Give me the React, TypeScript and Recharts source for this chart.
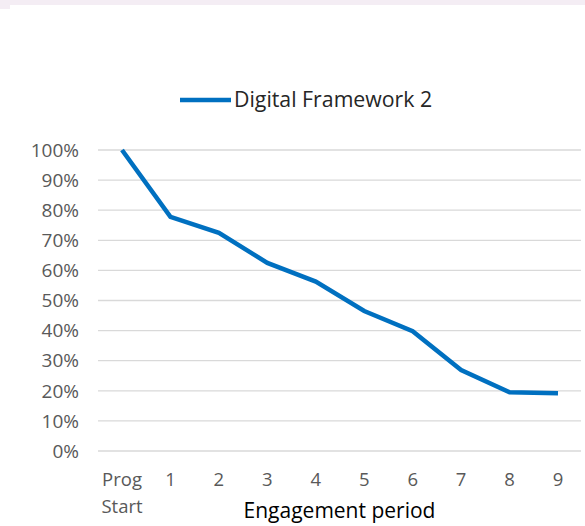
import { LineChart, Line, XAxis, YAxis, CartesianGrid, Legend } from "recharts";

const periods = ["Prog Start", "1", "2", "3", "4", "5", "6", "7", "8", "9"];
const framework2 = [1.0, 0.778, 0.725, 0.625, 0.563, 0.465, 0.398, 0.269, 0.195, 0.192];
const yTicks = [0, 0.1, 0.2, 0.3, 0.4, 0.5, 0.6, 0.7, 0.8, 0.9, 1.0];

const data = periods.map((p, i) => ({ period: p, value: framework2[i] }));

const FONT = "'Open Sans', sans-serif";
const BLUE = "#0070C0";

function PeriodTick({ x, y, payload }: any) {
  const lines = String(payload.value).split(" ");
  return (
    <text x={x} y={y} textAnchor="middle" fill="#595959" fontSize={18.5} fontFamily={FONT}>
      {lines.map((l, i) => (
        <tspan key={i} x={x} dy={i === 0 ? 35 : 27}>
          {l}
        </tspan>
      ))}
    </text>
  );
}

function LegendContent() {
  return (
    <svg width={300} height={30}>
      <line x1={2} y1={15} x2={53} y2={15} stroke={BLUE} strokeWidth={4.5} />
      <text x={56} y={22} fill="#262626" fontSize={21.3} fontFamily={FONT}>
        Digital Framework 2
      </text>
    </svg>
  );
}

export default function App() {
  return (
    <div style={{ position: "absolute", left: 0, top: 0, width: 585, height: 526, background: "#fff" }}>
      <div style={{ position: "absolute", left: 0, top: 0, width: 585, height: 5, background: "#f4edf4" }} />
      <div style={{ position: "absolute", left: 0, top: 0, width: 10, height: 9, background: "#f4edf4" }} />
      <LineChart
        width={585}
        height={526}
        data={data}
        margin={{ top: 150, right: 4, bottom: 0, left: 0 }}
        style={{ position: "absolute", left: 0, top: 0 }}
      >
        <CartesianGrid vertical={false} stroke="#d9d9d9" strokeWidth={1.3} />
        <XAxis
          dataKey="period"
          axisLine={false}
          tickLine={false}
          tickSize={0}
          tickMargin={0}
          height={75}
          interval={0}
          padding={{ left: 24, right: 23 }}
          tick={<PeriodTick />}
          label={{
            value: "Engagement period",
            position: "insideBottom",
            offset: 8,
            fill: "#000",
            fontSize: 21,
            fontFamily: FONT,
          }}
        />
        <YAxis
          width={98}
          domain={[0, 1]}
          ticks={yTicks}
          axisLine={false}
          tickLine={false}
          tickSize={0}
          tickMargin={19}
          tickFormatter={(v: number) => `${Math.round(v * 100)}%`}
          tick={{ fill: "#595959", fontSize: 19, fontFamily: FONT }}
        />
        <Legend
          layout="horizontal"
          verticalAlign="middle"
          align="center"
          content={<LegendContent />}
          wrapperStyle={{ top: 85, left: 178, width: 300, height: 30 }}
        />
        <Line
          type="linear"
          dataKey="value"
          name="Digital Framework 2"
          stroke={BLUE}
          strokeWidth={4.5}
          dot={false}
          activeDot={false}
          isAnimationActive={false}
        />
      </LineChart>
    </div>
  );
}
